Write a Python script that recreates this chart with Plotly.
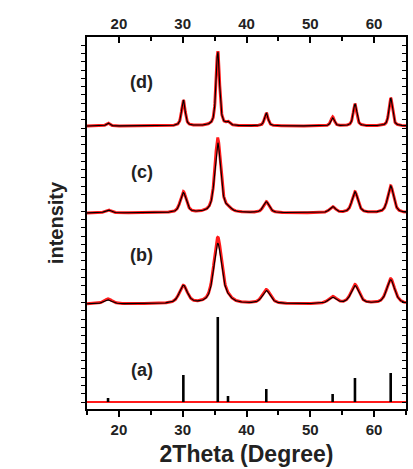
import numpy as np
import plotly.graph_objects as go

# Peak positions (2Theta, degree) of the spinel reflections
peak_pos = [18.3, 30.1, 35.5, 37.1, 43.1, 53.5, 57.0, 62.6]

# Peak heights (arbitrary units), per pattern
heights_a = [4, 27, 85, 6, 13, 8, 24, 29]          # reference sticks
heights_b_calc = [4, 18, 60, 3, 13, 6, 18, 24]
heights_b_obs = [5, 18, 66, 3, 14, 7, 19, 25]
heights_c_calc = [3, 20, 70, 3, 11, 6, 21, 27]
heights_c_obs = [3, 21, 74, 3, 11, 6, 21, 27]
heights_d_calc = [3, 26, 74, 3, 13, 8, 22, 28]
heights_d_obs = [3, 26, 75, 3, 13, 9, 22, 28]

# Peak widths (FWHM, degree) per pattern
fwhm_b = 1.5
fwhm_c = 1.1
fwhm_d = 0.65

# Vertical offsets of the stacked patterns
offset_a = 7
offset_b = 105
offset_c = 196
offset_d = 283

labels = ["(a)", "(b)", "(c)", "(d)"]
label_y = [39, 154, 237, 327]

x_ticks = [20, 30, 40, 50, 60]

x = np.arange(15.0, 65.0001, 0.04)


def profile(heights, fwhm, eta=0.6):
    y = np.zeros_like(x)
    hw = fwhm / 2.0
    for p, h in zip(peak_pos, heights):
        d = (x - p) / hw
        lor = 1.0 / (1.0 + d ** 2)
        gau = np.exp(-np.log(2) * d ** 2)
        y += h * (eta * lor + (1 - eta) * gau)
    return y


RED = "#ff1a1a"
fig = go.Figure()

patterns = [
    (offset_b, heights_b_obs, heights_b_calc, fwhm_b),
    (offset_c, heights_c_obs, heights_c_calc, fwhm_c),
    (offset_d, heights_d_obs, heights_d_calc, fwhm_d),
]
for off, hobs, hcalc, w in patterns:
    fig.add_trace(go.Scatter(x=x, y=off + profile(hobs, w), mode="lines",
                             line=dict(color=RED, width=3.0), showlegend=False))
    fig.add_trace(go.Scatter(x=x, y=off + profile(hcalc, w), mode="lines",
                             line=dict(color="black", width=1.1), showlegend=False))

# (a) reference pattern: red baseline with black sticks
fig.add_trace(go.Scatter(x=[15, 65], y=[offset_a, offset_a], mode="lines",
                         line=dict(color=RED, width=2.2), showlegend=False))
sx, sy = [], []
for p, h in zip(peak_pos, heights_a):
    sx += [p, p, None]
    sy += [offset_a, offset_a + h, None]
fig.add_trace(go.Scatter(x=sx, y=sy, mode="lines",
                         line=dict(color="black", width=2.6), showlegend=False))

# invisible trace for the mirrored axes
fig.add_trace(go.Scatter(x=[15, 65], y=[0, 0], xaxis="x2", yaxis="y2",
                         mode="lines", line=dict(width=0), opacity=0,
                         hoverinfo="skip", showlegend=False))

for lab, ly in zip(labels, label_y):
    fig.add_annotation(x=23.6, y=ly, text=f"<b>{lab}</b>", showarrow=False,
                       font=dict(family="Liberation Sans", size=18, color="#222"),
                       xanchor="center", yanchor="middle")

XR = [15, 65]
YR = [0, 372]
tickfont = dict(family="Liberation Sans", size=15, color="#222")

fig.update_layout(
    width=413, height=469,
    margin=dict(l=87, r=7, t=37, b=60),
    paper_bgcolor="white", plot_bgcolor="white",
    font=dict(family="Liberation Sans", color="#222"),
    xaxis=dict(range=XR, tickvals=x_ticks, ticktext=[f"<b>{v}</b>" for v in x_ticks],
               ticks="outside", ticklen=6, tickwidth=1.5, tickcolor="black",
               minor=dict(tickvals=[15, 25, 35, 45, 55, 65], ticks="outside", ticklen=4,
                          tickwidth=1.5, tickcolor="black"),
               showline=True, linecolor="black", linewidth=1.5, showgrid=False,
               zeroline=False, tickfont=tickfont,
               title=dict(text="<b>2Theta (Degree)</b>",
                          font=dict(size=23, family="Liberation Sans", color="#222"),
                          standoff=9)),
    xaxis2=dict(range=XR, overlaying="x", side="top", tickvals=x_ticks,
                ticktext=[f"<b>{v}</b>" for v in x_ticks],
                ticks="inside", ticklen=6, tickwidth=1.5, tickcolor="black",
                minor=dict(tickvals=[15, 25, 35, 45, 55, 65], ticks="inside", ticklen=4,
                           tickwidth=1.5, tickcolor="black"),
                showline=True, linecolor="black", linewidth=1.5, showgrid=False,
                zeroline=False, tickfont=tickfont),
    yaxis=dict(range=YR, tick0=offset_a, dtick=8.3, ticks="outside", ticklen=4,
               tickwidth=1.3, tickcolor="black", showticklabels=False,
               showline=True, linecolor="black", linewidth=1.5, showgrid=False,
               zeroline=False,
               title=dict(text="<b>intensity</b>",
                          font=dict(size=20, family="Liberation Sans", color="#222"),
                          standoff=12)),
    yaxis2=dict(range=YR, overlaying="y", side="right", tick0=offset_a, dtick=8.3,
                ticks="inside", ticklen=4, tickwidth=1.3, tickcolor="black",
                showticklabels=False, showline=True, linecolor="black", linewidth=1.5,
                showgrid=False, zeroline=False),
)

fig.write_html("out.html")
